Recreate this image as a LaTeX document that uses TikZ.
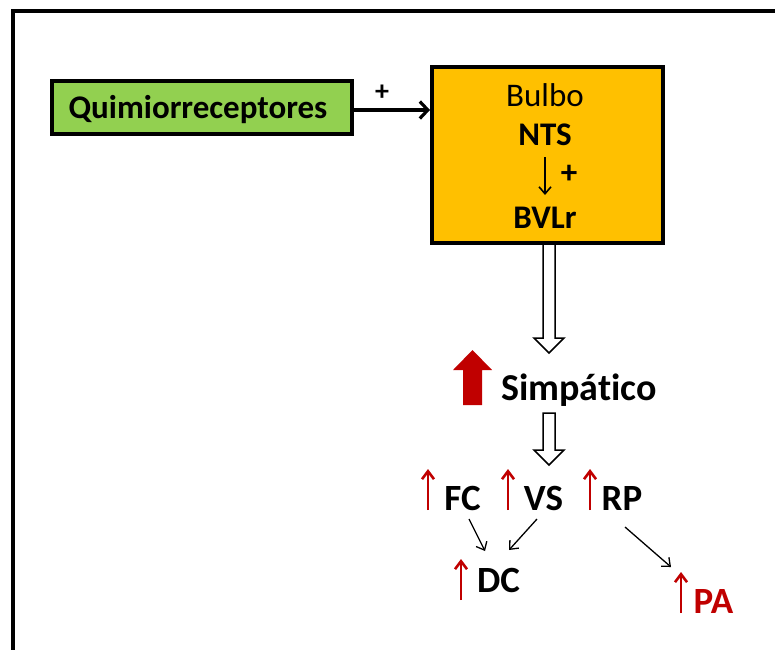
\documentclass[tikz,border=0pt]{standalone}
\usepackage{fontspec}
\setmainfont{Carlito}[Ligatures=NoCommon]
\usetikzlibrary{arrows.meta}
\definecolor{grn}{HTML}{92D050}
\definecolor{org}{HTML}{FFC000}
\definecolor{dred}{HTML}{C00000}
\tikzset{
  box/.style={draw=black, line width=4pt, inner sep=0pt},
  lbl/.style={inner sep=0pt, anchor=base, font=\fontsize{33}{36}\selectfont\bfseries},
  lblr/.style={inner sep=0pt, anchor=base, font=\fontsize{33}{36}\selectfont},
  big/.style={inner sep=0pt, anchor=base, font=\fontsize{37}{40}\selectfont\bfseries},
  thinarrow/.style={draw=black, line width=1.3pt, -{Straight Barb[length=7pt,width=12pt]}},
  midarrow/.style={draw=black, line width=1.6pt, -{Straight Barb[length=7pt,width=12pt]}},
  mainarrow/.style={draw=black, line width=3.2pt, -{Straight Barb[length=8pt,width=17pt,line width=3.2pt]}},
  redup/.style={draw=dred, line width=2.6pt, -{Straight Barb[length=8pt,width=12pt]}},
  hollow/.style={draw=black, line width=1.5pt, fill=white, line join=miter},
}
\begin{document}
\begin{tikzpicture}[x=1pt,y=-1pt]
\useasboundingbox (0,0) rectangle (775,649);
% frame
\draw[line width=4.5pt] (13,652) -- (13,11) -- (778,11);

% boxes
\node[box, fill=grn, minimum width=300pt, minimum height=53pt] (quim) at (202,107.5) {};
\node[lbl] (quimtxt) at (198,118) {Quimiorreceptores};
\node[box, fill=org, minimum width=231pt, minimum height=176pt] (bulbo) at (547.5,155) {};
\node[lblr] (bulbotxt) at (545,106) {Bulbo};
\node[lbl] (nts) at (545,145) {NTS};
\node[lbl] (bvlr) at (545,228) {BVLr};
\node[lbl] (plus2) at (569,183) {+};

% main input arrow
\draw[mainarrow] (quim.east |- 0,110) -- (bulbo.west |- 0,110);
\node[lbl, font=\fontsize{28}{30}\selectfont\bfseries] (plus1) at (382,100) {+};

% NTS -> BVLr
\draw[midarrow] (545,157) -- (545,195);

% hollow arrow 1
\draw[hollow] (543,245) -- (543,338) -- (534,338) -- (549,353) -- (564,338) -- (555,338) -- (555,245);

% Simpatico
\fill[dred] (463,405) -- (463,370) -- (453,370) -- (472.5,350) -- (492,370) -- (482,370) -- (482,405) -- cycle;
\node[big, font=\fontsize{38}{40}\selectfont\bfseries] (simp) at (579,400) {Simpát\kern0pt ico};

% hollow arrow 2
\draw[hollow] (543,413) -- (543,450) -- (534,450) -- (549,465) -- (564,450) -- (555,450) -- (555,413) -- cycle;

% effects
\node[big] (fc) at (462.5,510) {FC};
\node[big] (vs) at (543.5,510) {VS};
\node[big] (rp) at (622,510) {RP};
\node[big] (dc) at (498.5,592) {DC};
\node[big, text=dred] (pa) at (713.5,613) {PA};

\draw[redup] (428,510) -- (428,469);
\draw[redup] (508,510) -- (508,469);
\draw[redup] (590,510) -- (590,469);
\draw[redup] (461,600) -- (461,559);
\draw[redup] (681,613) -- (681,572);

\draw[thinarrow] (469,519) -- (485,551);
\draw[thinarrow] (537,519) -- (509,550);
\draw[thinarrow] (625,527) -- (671,567);
\end{tikzpicture}
\end{document}
